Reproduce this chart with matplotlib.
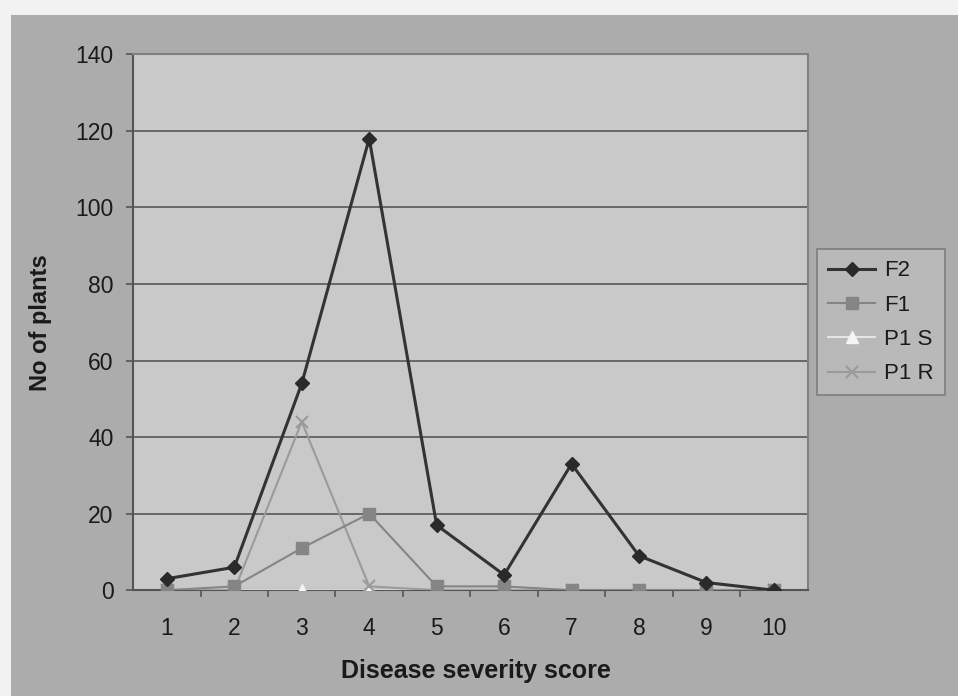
import matplotlib.pyplot as plt
import matplotlib.patches as patches

plt.rcParams['font.family'] = ['Liberation Sans', 'DejaVu Sans']

# disease severity scores (categories on the x axis)
scores = [1, 2, 3, 4, 5, 6, 7, 8, 9, 10]

# number of plants per score
f2 = [3, 6, 54, 118, 17, 4, 33, 9, 2, 0]
f1 = [0, 1, 11, 20, 1, 1, 0, 0, 0, 0]
p1_s = [0, 0, 0, 0, 0, 0, 0, 0, 0, 0]
p1_r = [0, 0, 44, 1, 0, 0, 0, 0, 0, 0]

y_ticks = [0, 20, 40, 60, 80, 100, 120, 140]

fig = plt.figure(figsize=(9.58, 6.96), dpi=100)
fig.patch.set_facecolor('#acacac')

# white paper strip at the left and top of the scan
fig.patches.append(patches.Rectangle((0.0, 0.0), 0.012, 1.0,
                                     transform=fig.transFigure,
                                     facecolor='#f2f2f2', edgecolor='none',
                                     zorder=-10))
fig.patches.append(patches.Rectangle((0.0, 0.979), 1.0, 0.021,
                                     transform=fig.transFigure,
                                     facecolor='#f2f2f2', edgecolor='none',
                                     zorder=-10))

ax = fig.add_axes([0.139, 0.152, 0.704, 0.77])
ax.set_facecolor('#c9c9c9')

ax.plot(scores, p1_s, color='#eeeeee', lw=1.2, marker='^', ms=8,
        mfc='#f4f4f4', mec='#f4f4f4', label='P1 S', zorder=3)
ax.plot(scores, p1_r, color='#9a9a9a', lw=1.5, marker='x', ms=9,
        mew=1.5, label='P1 R', zorder=4)
ax.plot(scores, f1, color='#858585', lw=1.5, marker='s', ms=8,
        mfc='#858585', mec='#858585', label='F1', zorder=5)
ax.plot(scores, f2, color='#333333', lw=2.2, marker='D', ms=7,
        mfc='#2a2a2a', mec='#2a2a2a', label='F2', zorder=6)

ax.set_xlim(0.5, 10.5)
ax.set_ylim(0, 140)
ax.set_yticks(y_ticks)
ax.set_xticks(scores)
ax.set_xticks([s + 0.5 for s in scores[:-1]], minor=True)
ax.tick_params(axis='x', which='major', length=0, pad=19, labelsize=16.5,
               labelcolor='#1a1a1a')
ax.tick_params(axis='x', which='minor', length=5, width=1.2,
               color='#555555', direction='out')
ax.tick_params(axis='y', length=5, width=1.2, color='#555555',
               labelsize=16.5, labelcolor='#1a1a1a', pad=9)

ax.grid(axis='y', color='#606060', lw=1.3, zorder=1)
ax.set_axisbelow(True)
for side in ['top', 'right']:
    ax.spines[side].set_color('#808080')
    ax.spines[side].set_linewidth(1.5)
for side in ['left', 'bottom']:
    ax.spines[side].set_color('#555555')
    ax.spines[side].set_linewidth(1.5)

ax.set_xlabel('Disease severity score', fontsize=18, fontweight='bold',
              color='#1a1a1a')
ax.set_ylabel('No of plants', fontsize=17, fontweight='bold',
              color='#1a1a1a')
ax.xaxis.set_label_coords(0.508, -0.128)
ax.yaxis.set_label_coords(-0.12, 0.5)

handles, labels = ax.get_legend_handles_labels()
order = ['F2', 'F1', 'P1 S', 'P1 R']
hmap = dict(zip(labels, handles))
leg = fig.legend([hmap[k] for k in order], order,
                 loc='upper left', bbox_to_anchor=(0.853, 0.642),
                 fontsize=16, frameon=True, fancybox=False,
                 handlelength=2.1, handletextpad=0.4,
                 labelspacing=0.6, borderpad=0.5, borderaxespad=0)
leg.get_frame().set_facecolor('#bdbdbd')
leg.get_frame().set_edgecolor('#707070')
leg.get_frame().set_linewidth(1.2)
for t in leg.get_texts():
    t.set_color('#1a1a1a')

fig.savefig('out.png', dpi=100, facecolor=fig.get_facecolor())
